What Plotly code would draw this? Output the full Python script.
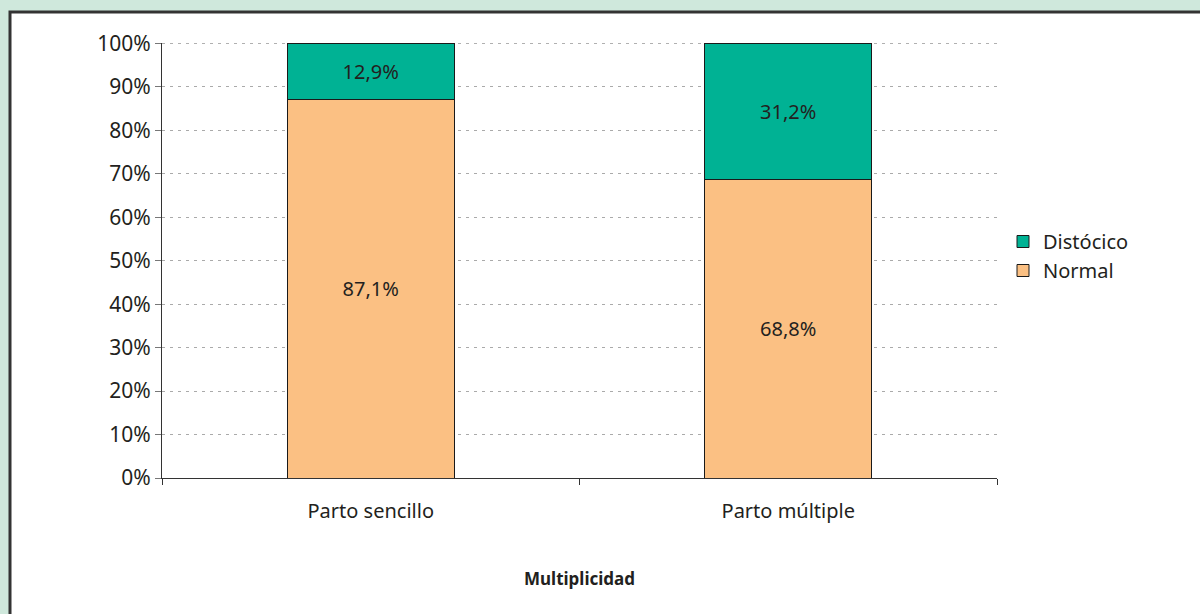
import plotly.graph_objects as go

categories = ["Parto sencillo", "Parto múltiple"]
normal = [87.1, 68.8]
distocico = [12.9, 31.2]
series_names = ["Normal", "Distócico"]
y_ticks = [0, 10, 20, 30, 40, 50, 60, 70, 80, 90, 100]

def fmt(v):
    return f"{v:.1f}".replace(".", ",") + "%"

FONT = "Noto Sans"
TXT = "#231f20"
BG = "#cfe8dc"

fig = go.Figure()
fig.add_trace(go.Bar(
    x=categories, y=normal, name=series_names[0],
    marker=dict(color="#fbc083", line=dict(color="#1a1a1a", width=1)),
    text=[fmt(v) for v in normal], textposition="inside", insidetextanchor="middle",
    textfont=dict(family=FONT, size=20, color=TXT), width=0.4,
))
fig.add_trace(go.Bar(
    x=categories, y=distocico, name=series_names[1],
    marker=dict(color="#00b294", line=dict(color="#1a1a1a", width=1)),
    text=[fmt(v) for v in distocico], textposition="inside", insidetextanchor="middle",
    textfont=dict(family=FONT, size=20, color=TXT), width=0.4,
))

W, H = 1200, 614
L, R, T, B = 162, 203, 43, 136
pw, ph = W - L - R, H - T - B

def px_x(p):
    return (p - L) / pw

def px_y(p):
    return (H - B - p) / ph

fig.add_shape(type="rect", xref="paper", yref="paper",
              x0=px_x(10), x1=px_x(1215), y0=px_y(630), y1=px_y(12),
              fillcolor="white", line=dict(color="#333333", width=3), layer="below")

# top gridline (at the range edge, which plotly skips)
fig.add_shape(type="line", xref="paper", yref="y", x0=0, x1=1,
              y0=y_ticks[-1], y1=y_ticks[-1],
              line=dict(color="#aaaaaa", width=1, dash="3px,5px"), layer="below")

fig.add_annotation(text="<b>Multiplicidad</b>", xref="paper", yref="paper",
                   x=px_x(579), y=px_y(578), xanchor="center", yanchor="middle",
                   showarrow=False, font=dict(family=FONT, size=17, color=TXT))

fig.update_layout(
    barmode="stack",
    width=W, height=H,
    margin=dict(l=L, r=R, t=T, b=B),
    paper_bgcolor=BG,
    plot_bgcolor="rgba(0,0,0,0)",
    font=dict(family=FONT, size=20, color=TXT),
    showlegend=True,
    legend=dict(x=px_x(1003), y=px_y(222), xanchor="left", yanchor="top",
                traceorder="reversed", font=dict(family=FONT, size=20, color=TXT),
                bgcolor="rgba(0,0,0,0)", itemwidth=30),
    xaxis=dict(showline=True, linecolor="#333333", linewidth=1, ticks="outside",
               tickson="boundaries", ticklen=6, tickcolor="#333333",
               tickfont=dict(family=FONT, size=20, color=TXT),
               ticklabelstandoff=15, showgrid=False),
    yaxis=dict(range=[0, 100.1], tickvals=y_ticks, ticktext=[f"{v}%" for v in y_ticks],
               showline=True, linecolor="#333333", linewidth=1, ticks="outside",
               ticklen=6, tickcolor="#777777",
               tickfont=dict(family=FONT, size=21, color=TXT),
               showgrid=True, gridcolor="#aaaaaa", griddash="3px,5px", gridwidth=1,
               zeroline=False),
)

fig.write_html(
    "out.html",
    config={"displayModeBar": False},
    post_script=f"document.body.style.margin='0';document.body.style.background='{BG}';document.body.style.overflow='hidden';",
)
